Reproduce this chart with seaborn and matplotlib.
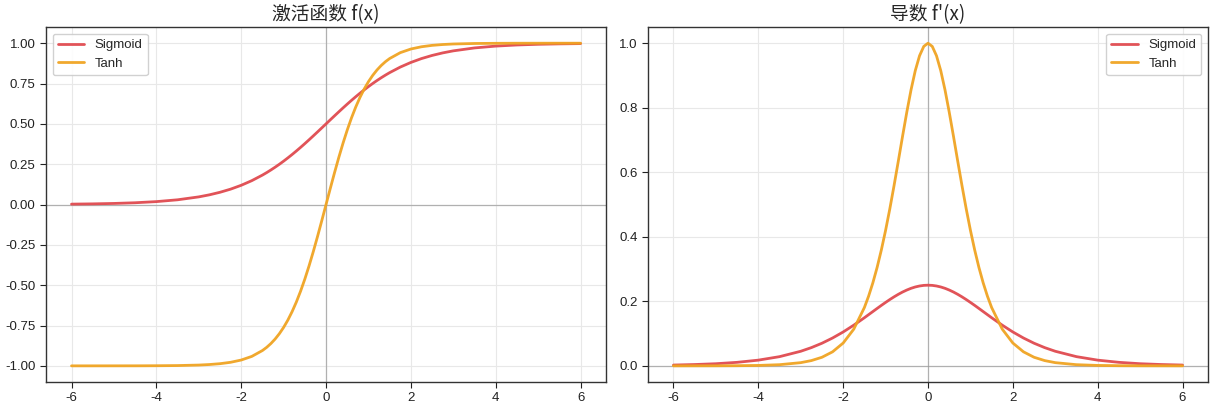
import pandas as pd
import numpy as np
import matplotlib
matplotlib.use("Agg")
import matplotlib.pyplot as plt
import seaborn as sns

# x positions (denser near the centre where curves bend most)
x_vals = [-6, -5.5, -5, -4.5, -4, -3.5, -3, -2.75, -2.5, -2.25, -2, -1.75,
          -1.5, -1.4, -1.3, -1.2, -1.1, -1.0, -0.9, -0.8, -0.7, -0.6, -0.5,
          -0.4, -0.3, -0.2, -0.1, 0, 0.1, 0.2, 0.3, 0.4, 0.5, 0.6, 0.7, 0.8,
          0.9, 1.0, 1.1, 1.2, 1.3, 1.4, 1.5, 1.75, 2, 2.25, 2.5, 2.75, 3,
          3.5, 4, 4.5, 5, 5.5, 6]

# activation values f(x)
sigmoid_vals = [0.0025, 0.0041, 0.0067, 0.0110, 0.0180, 0.0293, 0.0474, 0.0601,
                0.0759, 0.0953, 0.1192, 0.1480, 0.1824, 0.1978, 0.2142, 0.2315,
                0.2497, 0.2689, 0.2891, 0.3100, 0.3318, 0.3543, 0.3775, 0.4013,
                0.4256, 0.4502, 0.4750, 0.5000, 0.5250, 0.5498, 0.5744, 0.5987,
                0.6225, 0.6457, 0.6682, 0.6900, 0.7109, 0.7311, 0.7503, 0.7685,
                0.7858, 0.8022, 0.8176, 0.8520, 0.8808, 0.9047, 0.9241, 0.9399,
                0.9526, 0.9707, 0.9820, 0.9890, 0.9933, 0.9959, 0.9975]
tanh_vals = [-1.0000, -1.0000, -0.9999, -0.9998, -0.9993, -0.9982, -0.9951, -0.9918,
             -0.9866, -0.9780, -0.9640, -0.9414, -0.9051, -0.8854, -0.8617, -0.8337,
             -0.8005, -0.7616, -0.7163, -0.6640, -0.6044, -0.5371, -0.4621, -0.3799,
             -0.2913, -0.1974, -0.0997, 0.0000, 0.0997, 0.1974, 0.2913, 0.3799,
             0.4621, 0.5371, 0.6044, 0.6640, 0.7163, 0.7616, 0.8005, 0.8337,
             0.8617, 0.8854, 0.9051, 0.9414, 0.9640, 0.9780, 0.9866, 0.9918,
             0.9951, 0.9982, 0.9993, 0.9998, 0.9999, 1.0000, 1.0000]

# derivatives f'(x)
sigmoid_grad = [0.0025, 0.0041, 0.0066, 0.0109, 0.0177, 0.0285, 0.0452, 0.0565,
                0.0701, 0.0863, 0.1050, 0.1261, 0.1491, 0.1587, 0.1683, 0.1779,
                0.1874, 0.1966, 0.2055, 0.2139, 0.2217, 0.2288, 0.2350, 0.2403,
                0.2445, 0.2475, 0.2494, 0.2500, 0.2494, 0.2475, 0.2445, 0.2403,
                0.2350, 0.2288, 0.2217, 0.2139, 0.2055, 0.1966, 0.1874, 0.1779,
                0.1683, 0.1587, 0.1491, 0.1261, 0.1050, 0.0863, 0.0701, 0.0565,
                0.0452, 0.0285, 0.0177, 0.0109, 0.0066, 0.0041, 0.0025]
tanh_grad = [0.0000, 0.0001, 0.0002, 0.0005, 0.0013, 0.0036, 0.0099, 0.0163,
             0.0266, 0.0435, 0.0707, 0.1138, 0.1807, 0.2162, 0.2574, 0.3050,
             0.3592, 0.4200, 0.4869, 0.5591, 0.6347, 0.7116, 0.7864, 0.8556,
             0.9151, 0.9610, 0.9901, 1.0000, 0.9901, 0.9610, 0.9151, 0.8556,
             0.7864, 0.7116, 0.6347, 0.5591, 0.4869, 0.4200, 0.3592, 0.3050,
             0.2574, 0.2162, 0.1807, 0.1138, 0.0707, 0.0435, 0.0266, 0.0163,
             0.0099, 0.0036, 0.0013, 0.0005, 0.0002, 0.0001, 0.0000]

titles = ["激活函数 f(x)", "导数 f'(x)"]
names = ["Sigmoid", "Tanh"]
colors = {"Sigmoid": "#e04a4f", "Tanh": "#f0a422"}

sns.set_style("whitegrid", {
    "axes.edgecolor": "#333333",
    "grid.color": "#e8e8e8",
    "xtick.bottom": True,
    "ytick.left": True,
})
plt.rcParams["font.family"] = ["Liberation Sans", "Noto Sans CJK SC", "DejaVu Sans"]
plt.rcParams["axes.unicode_minus"] = False

df_f = pd.DataFrame({
    "x": x_vals * 2,
    "y": sigmoid_vals + tanh_vals,
    "func": [names[0]] * len(x_vals) + [names[1]] * len(x_vals),
})
df_g = pd.DataFrame({
    "x": x_vals * 2,
    "y": sigmoid_grad + tanh_grad,
    "func": [names[0]] * len(x_vals) + [names[1]] * len(x_vals),
})

fig, axes = plt.subplots(1, 2, figsize=(12.12, 4.04), dpi=100)

for ax, df, title, loc in zip(axes, [df_f, df_g], titles, ["upper left", "upper right"]):
    ax.axhline(0, color="#999999", lw=0.9, alpha=0.7, zorder=1)
    ax.axvline(0, color="#999999", lw=0.9, alpha=0.7, zorder=1)
    sns.lineplot(data=df, x="x", y="y", hue="func", palette=colors,
                 linewidth=2, alpha=0.95, ax=ax)
    ax.set_title(title, fontsize=13.5, pad=5, family=["Noto Sans CJK SC", "DejaVu Sans"])
    ax.set_xlabel("")
    ax.set_ylabel("")
    ax.tick_params(labelsize=9.5, colors="#222222", length=4, width=0.8)
    for sp in ax.spines.values():
        sp.set_linewidth(1.0)
    ax.legend(loc=loc, fontsize=9.5, frameon=True, framealpha=0.9)

axes[0].set_yticks([-1.0, -0.75, -0.5, -0.25, 0.0, 0.25, 0.5, 0.75, 1.0])
axes[0].set_yticklabels(["%.2f" % v for v in [-1.0, -0.75, -0.5, -0.25, 0.0, 0.25, 0.5, 0.75, 1.0]])

fig.subplots_adjust(left=0.038, right=0.9967, top=0.933, bottom=0.0545, wspace=0.075)
fig.savefig("out.png", dpi=100)
